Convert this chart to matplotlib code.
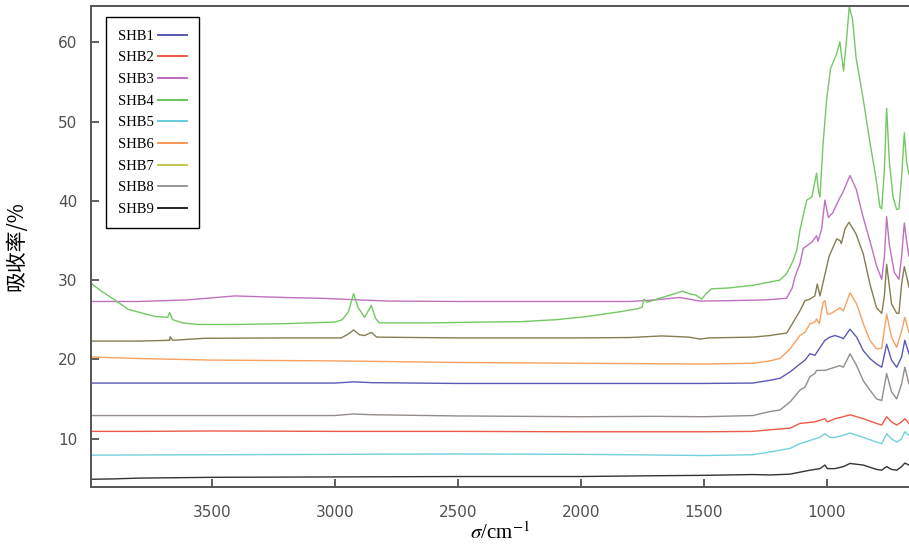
import matplotlib
matplotlib.use("Agg")
import matplotlib.pyplot as plt
from matplotlib.lines import Line2D

plt.rcParams['mathtext.fontset'] = 'stix'

# wavenumber (cm-1) / absorbance (%) points
shb4_x = [4000, 3950, 3900, 3840, 3780, 3730, 3680, 3672, 3660, 3620, 3560, 3400, 3200, 3000, 2970, 2945, 2924, 2905, 2879, 2852, 2835, 2820,
          2600, 2400, 2247, 2100, 1976, 1841, 1766, 1750, 1743, 1730, 1719, 1680, 1637, 1586, 1560, 1531, 1508, 1490, 1468, 1400, 1298, 1190,
          1163, 1140, 1122, 1108, 1081, 1060, 1041, 1033, 1027, 1015, 1000, 984, 960, 946, 940, 931, 920, 908, 895, 880, 851, 824, 800,
          783, 776, 765, 756, 745, 730, 715, 706, 695, 684, 675, 665]
shb4_y = [29.8, 28.6, 27.6, 26.3, 25.8, 25.4, 25.3, 25.9, 25.0, 24.6, 24.4, 24.4, 24.5, 24.7, 25.0, 26.0, 28.3, 26.5, 25.3, 26.8, 25.2, 24.6,
          24.6, 24.7, 24.75, 25.0, 25.4, 26.0, 26.4, 26.6, 27.6, 27.2, 27.3, 27.7, 28.1, 28.6, 28.3, 28.1, 27.6, 28.3, 28.9, 29.0, 29.35, 30.0,
          30.8, 32.2, 33.7, 36.4, 40.1, 40.5, 43.5, 41.2, 40.5, 47.0, 52.8, 56.7, 58.5, 60.1, 58.5, 56.4, 60.0, 64.5, 63.0, 58.0, 52.8, 47.4, 43.0,
          39.2, 39.0, 44.0, 51.7, 45.0, 40.5, 38.9, 39.0, 43.0, 48.6, 45.0, 43.3]

shb3_x = [4000, 3800, 3600, 3407, 3200, 3055, 2784, 2500, 2000, 1800, 1700, 1597, 1560, 1515, 1400, 1250, 1163, 1140, 1129, 1109, 1095,
          1060, 1041, 1035, 1020, 1007, 993, 975, 960, 946, 935, 905, 880, 852, 820, 797, 776, 765, 756, 745, 725, 706, 695, 684, 675, 665]
shb3_y = [27.3, 27.3, 27.5, 28.0, 27.8, 27.7, 27.35, 27.3, 27.3, 27.3, 27.5, 27.8, 27.6, 27.35, 27.4, 27.5, 27.7, 29.0, 30.4, 32.0, 34.0,
          34.8, 35.6, 34.9, 36.5, 40.1, 37.9, 38.5, 39.5, 40.4, 41.0, 43.2, 41.5, 38.0, 34.5, 31.8, 30.1, 33.0, 38.0, 34.5, 31.0, 30.1, 33.0, 37.2, 35.0, 33.0]

shb7_x = [4000, 3800, 3672, 3670, 3660, 3530, 3200, 2974, 2945, 2924, 2900, 2879, 2852, 2830, 2500, 2000, 1800, 1670, 1560, 1515, 1480,
          1300, 1231, 1190, 1163, 1149, 1109, 1088, 1068, 1048, 1038, 1027, 1007, 990, 959, 946, 940, 925, 909, 880, 851, 824, 797, 776,
          765, 756, 736, 715, 706, 695, 684, 675, 665]
shb7_y = [22.3, 22.3, 22.4, 22.85, 22.4, 22.65, 22.7, 22.7, 23.2, 23.7, 23.1, 23.0, 23.4, 22.8, 22.7, 22.7, 22.75, 22.95, 22.8, 22.55, 22.7,
          22.8, 23.0, 23.2, 23.3, 24.0, 26.1, 27.4, 27.6, 28.0, 29.5, 28.0, 30.7, 33.0, 35.2, 35.0, 34.6, 36.5, 37.3, 35.8, 33.3, 29.5, 26.5, 25.8,
          28.0, 32.0, 27.0, 25.8, 25.8, 29.5, 31.7, 30.5, 29.1]

shb6_x = [4000, 3800, 3500, 3000, 2500, 2000, 1500, 1300, 1231, 1190, 1149, 1109, 1088, 1068, 1048, 1041, 1030, 1014, 1007, 997, 987,
          966, 946, 932, 905, 878, 851, 824, 797, 776, 756, 736, 715, 695, 682, 665]
shb6_y = [20.3, 20.1, 19.9, 19.8, 19.6, 19.5, 19.4, 19.5, 19.8, 20.1, 21.3, 23.0, 23.4, 24.5, 24.7, 25.1, 24.5, 27.2, 27.4, 25.7, 25.7,
          26.1, 26.5, 26.1, 28.4, 27.0, 24.5, 22.4, 21.3, 21.4, 25.7, 22.8, 21.5, 23.6, 25.3, 23.4]

shb1_x = [4000, 3500, 3000, 2924, 2850, 2500, 2000, 1500, 1300, 1231, 1190, 1149, 1109, 1088, 1068, 1048, 1035, 1007, 987, 966, 946,
          932, 905, 878, 851, 824, 797, 776, 756, 736, 715, 695, 682, 665]
shb1_y = [17.0, 17.0, 17.0, 17.15, 17.05, 16.95, 16.95, 16.95, 17.0, 17.35, 17.6, 18.4, 19.4, 19.9, 20.7, 20.5, 21.1, 22.4, 22.8, 23.0, 22.8,
          22.6, 23.8, 22.8, 21.1, 20.1, 19.4, 19.0, 21.9, 19.9, 19.0, 20.3, 22.4, 20.7]

shb8_x = [4000, 3500, 3000, 2924, 2850, 2500, 2000, 1700, 1500, 1300, 1231, 1190, 1149, 1109, 1088, 1068, 1048, 1041, 1007, 966, 946,
          932, 905, 878, 851, 824, 797, 776, 756, 736, 715, 695, 682, 665]
shb8_y = [12.9, 12.9, 12.9, 13.1, 13.0, 12.85, 12.75, 12.8, 12.75, 12.9, 13.4, 13.6, 14.6, 16.1, 16.5, 17.8, 18.2, 18.6, 18.6, 19.0, 19.2,
          19.0, 20.7, 19.2, 17.3, 16.1, 15.0, 14.8, 18.2, 15.9, 15.0, 16.9, 19.0, 16.9]

shb2_x = [4000, 3800, 3500, 3000, 2500, 2000, 1500, 1300, 1231, 1149, 1109, 1048, 1027, 1007, 997, 966, 932, 905, 851, 797, 776,
          756, 736, 715, 695, 682, 665]
shb2_y = [10.9, 10.9, 10.95, 10.9, 10.9, 10.85, 10.85, 10.9, 11.1, 11.3, 11.9, 12.1, 12.3, 12.5, 12.1, 12.5, 12.75, 13.0, 12.5, 11.9, 11.7,
          12.75, 12.1, 11.7, 12.1, 12.5, 11.9]

shb5_x = [4000, 3500, 3000, 2500, 2000, 1800, 1500, 1300, 1231, 1149, 1109, 1048, 1027, 1007, 987, 966, 932, 905, 851, 797, 776,
          756, 736, 715, 695, 682, 665]
shb5_y = [7.9, 7.95, 8.0, 8.05, 8.0, 7.95, 7.85, 7.95, 8.3, 8.75, 9.35, 9.95, 10.15, 10.6, 10.15, 10.15, 10.4, 10.7, 10.15, 9.55, 9.35,
          10.6, 9.95, 9.55, 9.95, 10.85, 10.4]

shb9_x = [4000, 3900, 3800, 3500, 3000, 2500, 2000, 1700, 1500, 1300, 1231, 1149, 1068, 1027, 1007, 997, 966, 932, 905, 851, 797,
          776, 756, 736, 715, 695, 682, 665]
shb9_y = [4.85, 4.9, 5.0, 5.1, 5.15, 5.2, 5.2, 5.3, 5.35, 5.45, 5.4, 5.5, 6.0, 6.2, 6.65, 6.2, 6.2, 6.45, 6.85, 6.65, 6.1,
          6.0, 6.45, 6.1, 6.0, 6.45, 6.9, 6.65]

names = ['SHB1', 'SHB2', 'SHB3', 'SHB4', 'SHB5', 'SHB6', 'SHB7', 'SHB8', 'SHB9']
legend_colors = ['#4a4aa8', '#e84a3a', '#b95cb9', '#5cbf4e', '#5cc8d8', '#f5904a', '#bcc03a', '#8f8f8f', '#111111']
line_colors = ['#5a5ab4', '#ec5a48', '#c070c0', '#72c862', '#74d0de', '#f7a060', '#857d52', '#948c88', '#333333']

series = [(shb1_x, shb1_y), (shb2_x, shb2_y), (shb3_x, shb3_y), (shb4_x, shb4_y), (shb5_x, shb5_y),
          (shb6_x, shb6_y), (shb7_x, shb7_y), (shb8_x, shb8_y), (shb9_x, shb9_y)]

fig = plt.figure(figsize=(9.09, 5.47), dpi=100)
ax = fig.add_axes([0.1001, 0.110, 0.8999, 0.879])

for (xs, ys), c in zip(series, line_colors):
    ax.plot(xs, ys, color=c, lw=1.0)

ax.set_xlim(3992, 665)
ax.set_ylim(3.9, 64.6)
ax.set_xticks([3500, 3000, 2500, 2000, 1500, 1000])
ax.set_yticks([10, 20, 30, 40, 50, 60])

for s in ['left', 'bottom', 'top']:
    ax.spines[s].set_color('#555555')
    ax.spines[s].set_linewidth(1.4)
ax.spines['right'].set_visible(False)
ax.tick_params(direction='in', length=6, width=1.2, color='#444444',
               labelsize=11, labelcolor='#505050')
ax.tick_params(axis='x', pad=13)
ax.tick_params(axis='y', pad=10)
for lab in ax.get_xticklabels() + ax.get_yticklabels():
    lab.set_family('DejaVu Sans')

ax.set_ylabel('吸收率/%', family=['Noto Sans CJK SC', 'DejaVu Sans'], fontsize=15, labelpad=22)
ax.set_xlabel(r'$\sigma$/cm$^{-1}$', family='Liberation Serif', fontsize=15, labelpad=2)

handles = [Line2D([], [], color=c, lw=1.3) for c in legend_colors]
leg = ax.legend(handles, names, loc='upper left', bbox_to_anchor=(0.018, 0.977), borderaxespad=0,
                markerfirst=False, fancybox=False, framealpha=1, edgecolor='black',
                prop={'family': 'Liberation Serif', 'size': 10.5}, handlelength=2.0,
                handletextpad=0.25, labelspacing=0.58, borderpad=0.85)
leg.get_frame().set_linewidth(1.0)

fig.savefig('out.png', dpi=100)
